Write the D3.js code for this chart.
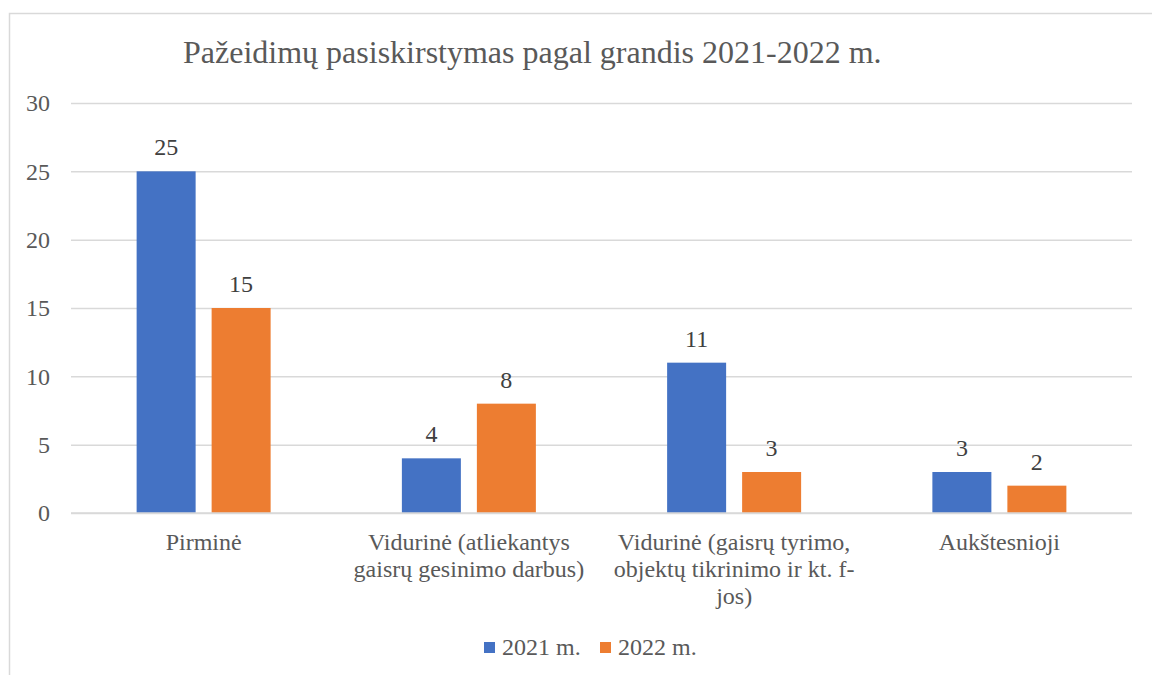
<!DOCTYPE html>
<html>
<head>
<meta charset="utf-8">
<script src="https://cdn.jsdelivr.net/npm/d3@7"></script>
<style>
  body { margin: 0; background: #fff; }
</style>
</head>
<body>
<div id="chart"></div>
<script>
var categories = [
  ["Pirminė"],
  ["Vidurinė (atliekantys", "gaisrų gesinimo darbus)"],
  ["Vidurinė (gaisrų tyrimo,", "objektų tikrinimo ir kt. f-", "jos)"],
  ["Aukštesnioji"]
];
var seriesNames = ["2021 m.", "2022 m."];
var values2021 = [25, 4, 11, 3];
var values2022 = [15, 8, 3, 2];
var yTicks = [0, 5, 10, 15, 20, 25, 30];
var colors = ["#4472C4", "#ED7D31"];

var FONT = "Liberation Serif";

(function () {
  'use strict'

  var W = 1152, H = 675;
  var margin = {top: 103, right: 20, bottom: 162, left: 71};
  var width = 1132 - margin.left;
  var height = H - margin.top - margin.bottom;

  var svg = d3.select("#chart").append("svg")
    .attr("width", W)
    .attr("height", H);

  // chart border
  svg.append("rect")
    .attr("x", 9.5).attr("y", 13.5)
    .attr("width", W + 20).attr("height", H + 20)
    .attr("fill", "#fff")
    .attr("stroke", "#d9d9d9")
    .attr("stroke-width", 1.5);

  svg.append("text")
    .attr("x", 183).attr("y", 63)
    .style("font-family", FONT)
    .attr("font-size", "32px")
    .attr("fill", "#595959")
    .text("Pažeidimų pasiskirstymas pagal grandis 2021-2022 m.");

  var g = svg.append("g")
    .attr("transform", "translate(" + margin.left + "," + margin.top + ")");

  var labels = categories.map(function(c) { return c.join(" "); });
  var rows = labels.map(function(l, i) {
    return {label: l, lines: categories[i], vals: [values2021[i], values2022[i]]};
  });

  var x0 = d3.scaleBand().domain(labels).range([0, width]).padding(0);
  var bw = x0.bandwidth();
  var x1 = d3.scaleBand().domain([0, 1])
    .range([bw / 2 - 67, bw / 2 + 67])
    .paddingInner(0.2133).paddingOuter(0);
  var y = d3.scaleLinear().domain([0, 30]).range([height, 0]);

  // gridlines
  g.append("g")
    .attr("class", "grid")
    .call(d3.axisLeft(y).tickValues(yTicks).tickSize(-width).tickFormat(""))
    .call(function(s) {
      s.select(".domain").remove();
      s.selectAll("line").attr("stroke", "#d9d9d9").attr("stroke-width", 1.5);
    });

  // y labels
  g.append("g")
    .attr("class", "yaxis")
    .call(d3.axisLeft(y).tickValues(yTicks).tickSize(0).tickPadding(21))
    .call(function(s) {
      s.select(".domain").remove();
      s.selectAll("text")
        .style("font-family", FONT)
        .attr("font-size", "24px")
        .attr("fill", "#595959");
    });

  var grp = g.selectAll(".cat")
    .data(rows)
    .enter().append("g")
    .attr("class", "cat")
    .attr("transform", function(d) { return "translate(" + x0(d.label) + ",0)"; });

  grp.selectAll("rect")
    .data(function(d) { return d.vals; })
    .enter().append("rect")
    .attr("x", function(d, i) { return x1(i); })
    .attr("y", function(d) { return y(d); })
    .attr("width", x1.bandwidth())
    .attr("height", function(d) { return height - y(d); })
    .attr("fill", function(d, i) { return colors[i]; });

  grp.selectAll(".val")
    .data(function(d) { return d.vals; })
    .enter().append("text")
    .attr("class", "val")
    .attr("x", function(d, i) { return x1(i) + x1.bandwidth() / 2; })
    .attr("y", function(d) { return y(d) - 16; })
    .attr("text-anchor", "middle")
    .style("font-family", FONT)
    .attr("font-size", "24px")
    .attr("fill", "#404040")
    .text(function(d) { return d; });

  // zero line
  g.append("line")
    .attr("x1", 0).attr("x2", width)
    .attr("y1", y(0)).attr("y2", y(0))
    .attr("stroke", "#d9d9d9").attr("stroke-width", 1.5);

  // category labels
  grp.append("text")
    .attr("text-anchor", "middle")
    .style("font-family", FONT)
    .attr("font-size", "24px")
    .attr("fill", "#595959")
    .selectAll("tspan")
    .data(function(d) { return d.lines; })
    .enter().append("tspan")
    .attr("x", bw / 2)
    .attr("y", function(d, i) { return height + 37 + i * 27; })
    .text(function(d) { return d; });

  // legend
  var legendX = [484, 600];
  var leg = svg.append("g").attr("class", "legend");
  seriesNames.forEach(function(n, i) {
    leg.append("rect")
      .attr("x", legendX[i]).attr("y", 642)
      .attr("width", 11).attr("height", 11)
      .attr("fill", colors[i]);
    leg.append("text")
      .attr("x", legendX[i] + 18).attr("y", 655)
      .style("font-family", FONT)
      .attr("font-size", "24px")
      .attr("fill", "#595959")
      .text(n);
  });
})()
</script>
</body>
</html>
